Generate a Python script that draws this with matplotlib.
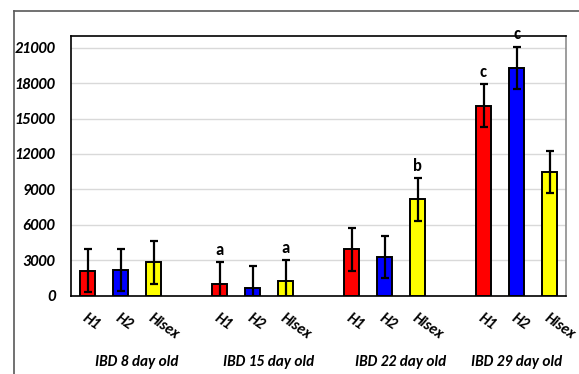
import matplotlib
matplotlib.use("Agg")
import matplotlib.pyplot as plt
from matplotlib.lines import Line2D
import numpy as np

# ---- data ----
groups = ["IBD 8 day old", "IBD 15 day old", "IBD 22 day old", "IBD 29 day old"]
breeds = ["H1", "H2", "Hisex"]
h1_values = [2100, 1000, 3900, 16100]
h2_values = [2150, 650, 3250, 19300]
hisex_values = [2800, 1200, 8150, 10450]
h1_err = [1800, 1830, 1800, 1820]
h2_err = [1800, 1820, 1800, 1800]
hisex_err = [1830, 1820, 1830, 1800]
h1_letters = ["", "a", "", "c"]
h2_letters = ["", "", "", "c"]
hisex_letters = ["", "a", "b", ""]
y_ticks = [0, 3000, 6000, 9000, 12000, 15000, 18000, 21000]

colors = ["#ff0000", "#0000ff", "#ffff00"]

plt.rcParams['font.family'] = ['Carlito', 'DejaVu Sans']

fig = plt.figure(figsize=(5.79, 3.74), dpi=100)
ax = fig.add_axes([71/579, 1 - 295.5/374, (566-71)/579, (295.5-36)/374])

series_vals = [h1_values, h2_values, hisex_values]
series_err = [h1_err, h2_err, hisex_err]
series_letters = [h1_letters, h2_letters, hisex_letters]

tick_pos = []
tick_lab = []
for s in range(3):
    xs = np.arange(len(groups)) * 4 + s
    ax.bar(xs, series_vals[s], width=0.48, color=colors[s], edgecolor='black',
           linewidth=1.4, zorder=3)
    ax.errorbar(xs, series_vals[s], yerr=series_err[s], fmt='none', ecolor='black',
                elinewidth=1.6, capsize=3, capthick=1.6, zorder=4)
    for x, v, e, l in zip(xs, series_vals[s], series_err[s], series_letters[s]):
        if l:
            ax.annotate(l, (x, v + e), xytext=(0, 3), textcoords='offset points',
                        ha='center', va='bottom', fontsize=12, fontweight='bold')
    tick_pos.extend(xs)
    tick_lab.extend([breeds[s]] * len(groups))

order = np.argsort(tick_pos)
ax.set_xticks(np.array(tick_pos)[order])
ax.set_xticklabels(np.array(tick_lab)[order], rotation=-35, ha='left', va='top',
                   rotation_mode='anchor', fontsize=11, fontweight='bold', fontstyle='italic')
ax.tick_params(axis='x', length=0, pad=11)
ax.set_xlim(-0.5, 14.5)
ax.set_ylim(0, 22000)
ax.set_yticks(y_ticks)
ax.set_yticklabels([str(t) for t in y_ticks], fontsize=11.5, fontweight='bold',
                   fontstyle='italic')
ax.tick_params(axis='y', length=0, pad=11.5)
ax.yaxis.grid(True, color='#d9d9d9', linewidth=1, zorder=0)
ax.set_axisbelow(True)
for side in ['top', 'left', 'bottom']:
    ax.spines[side].set_color('black')
    ax.spines[side].set_linewidth(1.2)
ax.spines['right'].set_color('#8c8c8c')
ax.spines['right'].set_linewidth(1.2)

# group labels
group_centers = [1.5, 5.5, 9.5, 13]
for gc, g in zip(group_centers, groups):
    ax.text(gc, -0.256, g, transform=ax.get_xaxis_transform(), ha='center', va='center',
            fontsize=11, fontweight='bold', fontstyle='italic')

# outer frame (top and left)
fig.add_artist(Line2D([14/579, 1], [1 - 11/374, 1 - 11/374], color='#595959', linewidth=1.2))
fig.add_artist(Line2D([14/579, 14/579], [0, 1 - 11/374], color='#595959', linewidth=1.2))

fig.savefig("out.png", dpi=100)
